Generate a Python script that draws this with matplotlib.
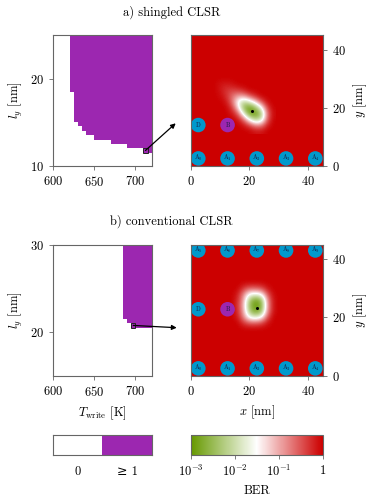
import numpy as np
import matplotlib
matplotlib.use('Agg')
import matplotlib.pyplot as plt
from matplotlib.colors import ListedColormap, LinearSegmentedColormap, LogNorm, Normalize
from matplotlib.cm import ScalarMappable
from matplotlib.patches import Circle, Rectangle

plt.rcParams['font.family'] = 'serif'
plt.rcParams['font.serif'] = ['cmr10', 'DejaVu Serif']
plt.rcParams['mathtext.fontset'] = 'cm'
plt.rcParams['axes.unicode_minus'] = False
plt.rcParams['axes.formatter.use_mathtext'] = True
plt.rcParams['font.size'] = 9

PURPLE = '#9c27b0'
BLUE = '#0099cc'
RED = '#cc0000'
GREEN = '#669900'
EDGE = '#666666'

# lowest l_y with >=1 errors, per 5 K column of T_write (last value closes the step)
shingled_T = [620, 625, 630, 635, 640, 650, 670, 690, 710, 720]
shingled_ly = [18.5, 15.0, 14.5, 14.0, 13.5, 13.0, 12.5, 12.0, 11.5, 11.5]
conv_T = [685, 690, 695, 720]
conv_ly = [21.5, 21.0, 20.5, 20.5]

# picked working point (cell centre) shown in the BER map
shingled_pick = (712.5, 11.75)
conv_pick = (697.5, 20.75)

# log10(BER) around the write spot, 2 nm grid, rows = y ascending
spot_a_x = [8, 10, 12, 14, 16, 18, 20, 22, 24, 26, 28]
spot_a_y = [12, 14, 16, 18, 20, 22, 24, 26, 28, 30]
spot_a_logber = [
    [0, 0, 0, 0, 0, 0, 0, -0.1, -0.1, 0, 0],
    [0, 0, 0, 0, 0, -0.1, -0.4, -0.8, -0.8, -0.2, 0],
    [0, 0, 0, 0, -0.1, -0.6, -1.6, -2.3, -2.0, -0.6, 0],
    [0, 0, 0, -0.1, -0.5, -1.7, -2.9, -2.9, -2.4, -0.7, -0.05],
    [0, 0, 0, -0.3, -1.2, -2.5, -2.9, -2.5, -1.6, -0.4, 0],
    [0, 0, -0.1, -0.6, -1.5, -2.1, -1.8, -1.2, -0.5, -0.05, 0],
    [0, -0.05, -0.25, -0.6, -0.9, -0.9, -0.5, -0.2, 0, 0, 0],
    [0, -0.1, -0.3, -0.35, -0.3, -0.15, 0, 0, 0, 0, 0],
    [0, -0.1, -0.15, -0.1, 0, 0, 0, 0, 0, 0, 0],
    [0, 0, 0, 0, 0, 0, 0, 0, 0, 0, 0],
]
spot_a_min = (20.7, 18.7)

spot_b_x = [14, 16, 18, 20, 22, 24, 26, 28, 30]
spot_b_y = [16, 18, 20, 22, 24, 26, 28, 30, 32]
spot_b_logber = [
    [0, 0, 0, 0, 0, 0, 0, 0, 0],
    [0, 0, -0.3, -0.5, -0.5, -0.4, -0.1, 0, 0],
    [0, -0.15, -0.8, -1.6, -1.8, -1.5, -0.5, 0, 0],
    [0, -0.25, -1.0, -2.3, -2.8, -2.5, -0.9, -0.1, 0],
    [0, -0.3, -1.1, -2.5, -3.0, -2.7, -1.0, -0.1, 0],
    [0, -0.25, -1.0, -2.3, -2.8, -2.5, -0.9, -0.1, 0],
    [0, -0.15, -0.8, -1.5, -1.6, -1.4, -0.5, -0.05, 0],
    [0, 0, -0.3, -0.5, -0.5, -0.4, -0.1, 0, 0],
    [0, 0, 0, 0, 0, 0, 0, 0, 0],
]
spot_b_min = (22.4, 23.3)

# islands: label, x, y, is_bit
islands_a = [('A$_0$', 2.5, 2.5, 0), ('A$_1$', 12.5, 2.5, 0), ('A$_2$', 22.5, 2.5, 0),
             ('A$_3$', 32.5, 2.5, 0), ('A$_4$', 42.5, 2.5, 0),
             ('D', 2.5, 14.0, 0), ('B', 12.5, 14.0, 1)]
islands_b = [('A$_0$', 2.5, 2.5, 0), ('A$_1$', 12.5, 2.5, 0), ('A$_2$', 22.5, 2.5, 0),
             ('A$_3$', 32.5, 2.5, 0), ('A$_4$', 42.5, 2.5, 0),
             ('A$_5$', 2.5, 43.0, 0), ('A$_6$', 12.5, 43.0, 0), ('A$_7$', 22.5, 43.0, 0),
             ('A$_8$', 32.5, 43.0, 0), ('A$_9$', 42.5, 43.0, 0),
             ('D', 2.5, 22.8, 0), ('B', 12.5, 22.8, 1)]

# two-colour legend for the error maps
err_labels = ['0', '≥ 1']

ber_cmap = LinearSegmentedColormap.from_list('ber', [(0, GREEN), (0.5, 'white'), (1, RED)])
log_norm = Normalize(-3, 0)


def style(ax):
    for s in ax.spines.values():
        s.set_color(EDGE)
        s.set_linewidth(0.8)
    ax.tick_params(colors=EDGE, labelcolor='k', length=3, width=0.6, direction='out')


def error_map(ax, T, ly, ylim, pick, head):
    ax.fill_between(T, ly, ylim[1], step='post', color=PURPLE, lw=0)
    ax.add_patch(Rectangle((pick[0] - 2.5, pick[1] - 0.25), 5, 0.5, fill=False,
                           ec='#222222', lw=0.7))
    ax.set_xlim(600, 720)
    ax.set_ylim(*ylim)
    ax.set_xticks([600, 650, 700])
    ax.set_ylabel(r'$l_y$ [nm]')
    style(ax)
    ax.annotate('', xy=head, xycoords='figure fraction', xytext=pick, textcoords='data',
                arrowprops=dict(arrowstyle='-|>', color='k', lw=0.9, shrinkA=0, shrinkB=0,
                                mutation_scale=7),
                annotation_clip=False)


def ber_map(ax, sx, sy, logber, vmin_pt, islands):
    ax.imshow([[0.0]], extent=(0, 45, 0, 45), cmap=ber_cmap, norm=log_norm,
              origin='lower', aspect='auto')
    ax.imshow(np.array(logber), extent=(sx[0] - 1, sx[-1] + 1, sy[0] - 1, sy[-1] + 1),
              cmap=ber_cmap, norm=log_norm, origin='lower', aspect='auto',
              interpolation='bicubic', interpolation_stage='data')
    ax.plot(*vmin_pt, 'o', color='k', ms=1.2)
    for lab, x, y, bit in islands:
        ax.add_patch(Circle((x, y), 2.5, color=PURPLE if bit else BLUE, lw=0, clip_on=True))
        ax.text(x, y, lab, ha='center', va='center', fontsize=4.5, color='#1a1a40')
    ax.set_xlim(0, 45)
    ax.set_ylim(0, 45)
    ax.set_xticks([0, 20, 40])
    ax.set_yticks([0, 20, 40])
    ax.yaxis.tick_right()
    ax.yaxis.set_label_position('right')
    ax.set_ylabel(r'$y$ [nm]')
    style(ax)


fig = plt.figure(figsize=(3.75, 5.01), dpi=100)

ax_a1 = fig.add_axes([0.142, 0.6693, 0.2624, 0.2608])
ax_a2 = fig.add_axes([0.5093, 0.6693, 0.351, 0.2608])
ax_b1 = fig.add_axes([0.142, 0.2502, 0.2624, 0.2615])
ax_b2 = fig.add_axes([0.5093, 0.2502, 0.351, 0.2615])

error_map(ax_a1, shingled_T, shingled_ly, (10, 25), shingled_pick, (0.4685, 0.7539))
ax_a1.set_yticks([10, 20])
error_map(ax_b1, conv_T, conv_ly, (15, 30), conv_pick, (0.4712, 0.3459))
ax_b1.set_yticks([20, 30])
ax_b1.set_xlabel(r'$T_\mathrm{write}$ [K]')

ber_map(ax_a2, spot_a_x, spot_a_y, spot_a_logber, spot_a_min, islands_a)
ber_map(ax_b2, spot_b_x, spot_b_y, spot_b_logber, spot_b_min, islands_b)
ax_b2.set_xlabel(r'$x$ [nm]')

fig.text(0.457, 0.975, 'a) shingled CLSR', ha='center', va='center')
fig.text(0.457, 0.558, 'b) conventional CLSR', ha='center', va='center')

# colour bars
cax1 = fig.add_axes([0.142, 0.0918, 0.2624, 0.0399])
cax1.imshow([[0, 1]], cmap=ListedColormap(['white', PURPLE]), extent=(0, 2, 0, 1),
            aspect='auto')
cax1.set_xticks([])
cax1.set_yticks([])
style(cax1)
for i, lab in enumerate(err_labels):
    cax1.text(i + 0.5, -1.0, lab, ha='center', va='baseline', clip_on=False,
              family=['cmr10', 'DejaVu Serif'])

cax2 = fig.add_axes([0.5093, 0.0918, 0.351, 0.0399])
cb = fig.colorbar(ScalarMappable(norm=LogNorm(1e-3, 1), cmap=ber_cmap), cax=cax2,
                  orientation='horizontal')
cb.set_ticks([1e-3, 1e-2, 1e-1, 1], labels=['$10^{-3}$', '$10^{-2}$', '$10^{-1}$', '$1$'])
cb.minorticks_off()
cb.outline.set_edgecolor(EDGE)
cb.outline.set_linewidth(0.8)
cax2.tick_params(colors=EDGE, labelcolor='k', length=3, width=0.6)
cb.set_label('BER')

fig.savefig('out.png', dpi=100)
